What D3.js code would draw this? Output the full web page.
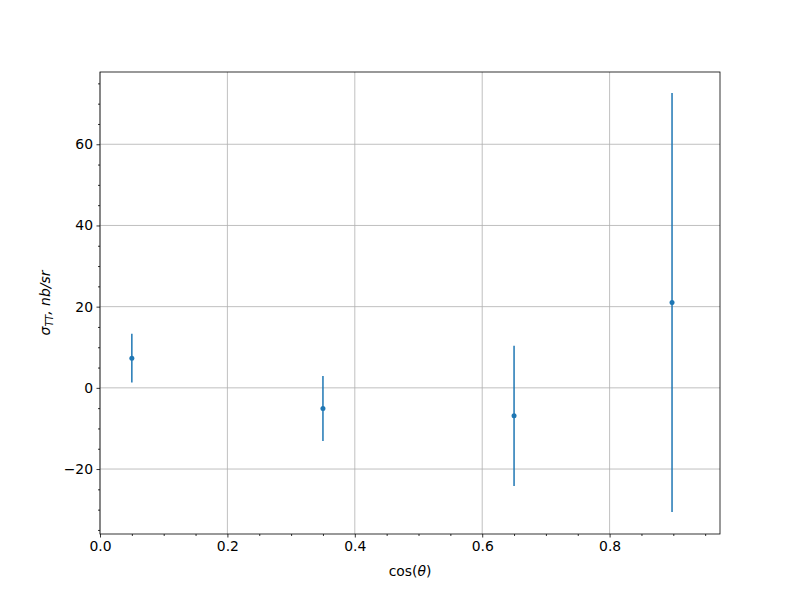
<!DOCTYPE html>
<html>
<head>
<meta charset="utf-8">
<script src="https://cdn.jsdelivr.net/npm/d3@7"></script>
<style>
  body { margin: 0; background: #fff; }
  text { font-family: "DejaVu Sans", sans-serif; }
</style>
</head>
<body>
<svg id="chart" width="800" height="600"></svg>
<script>
// Data
const cosTheta = [0.05, 0.35, 0.65, 0.898];
const sigmaTT = [7.3, -5.1, -6.9, 21.0];
const sigmaErr = [6.0, 8.0, 17.3, 51.6];
const xTicks = [0.0, 0.2, 0.4, 0.6, 0.8];
const yTicks = [-20, 0, 20, 40, 60];

const svg = d3.select("#chart");
const L = 100, R = 720, T = 72, B = 534;
const x = d3.scaleLinear().domain([0, 0.9733]).range([L, R]);
const y = d3.scaleLinear().domain([-36.0, 77.8]).range([B, T]);

svg.append("rect").attr("width", 800).attr("height", 600).attr("fill", "#fff");

// Grid
const grid = svg.append("g");
grid.selectAll("line.gx").data(xTicks).enter().append("line")
  .attr("x1", d => x(d)).attr("x2", d => x(d)).attr("y1", T).attr("y2", B)
  .attr("stroke", "#b0b0b0").attr("stroke-width", 0.8);
grid.selectAll("line.gy").data(yTicks).enter().append("line")
  .attr("y1", d => y(d)).attr("y2", d => y(d)).attr("x1", L).attr("x2", R)
  .attr("stroke", "#b0b0b0").attr("stroke-width", 0.8);

// Axes
const fmtX = d3.format(".1f");
const xMinor = d3.range(0, 0.9733, 0.05).filter(v => Math.abs(v * 5 - Math.round(v * 5)) > 1e-6);
const yMinor = d3.range(-35, 78, 5).filter(v => v % 20 !== 0);

const xAxis = svg.append("g").attr("transform", `translate(0,${B})`)
  .call(d3.axisBottom(x).tickValues(xTicks).tickFormat(fmtX).tickSize(3.5).tickPadding(3.5));
const xAxisMinor = svg.append("g").attr("transform", `translate(0,${B})`)
  .call(d3.axisBottom(x).tickValues(xMinor).tickFormat("").tickSize(2));
const yAxis = svg.append("g").attr("transform", `translate(${L},0)`)
  .call(d3.axisLeft(y).tickValues(yTicks).tickFormat(d => d < 0 ? "\u2212" + Math.abs(d) : d).tickSize(3.5).tickPadding(3.5));
const yAxisMinor = svg.append("g").attr("transform", `translate(${L},0)`)
  .call(d3.axisLeft(y).tickValues(yMinor).tickFormat("").tickSize(2));

[xAxis, xAxisMinor, yAxis, yAxisMinor].forEach(g => {
  g.select(".domain").remove();
  g.selectAll("line").attr("stroke", "#000").attr("stroke-width", 0.8);
  g.selectAll("text").attr("font-size", "13.9px").attr("fill", "#000")
    .attr("font-family", "DejaVu Sans, sans-serif");
});

// Frame
svg.append("rect").attr("x", L).attr("y", T).attr("width", R - L).attr("height", B - T)
  .attr("fill", "none").attr("stroke", "#000").attr("stroke-width", 0.8);

// Error bars
const pts = cosTheta.map((c, i) => ({ c, v: sigmaTT[i], e: sigmaErr[i] }));
const g = svg.append("g");
g.selectAll("line.err").data(pts).enter().append("line")
  .attr("x1", d => x(d.c)).attr("x2", d => x(d.c))
  .attr("y1", d => y(d.v - d.e)).attr("y2", d => y(d.v + d.e))
  .attr("stroke", "#1f77b4").attr("stroke-width", 1.5);
g.selectAll("circle").data(pts).enter().append("circle")
  .attr("cx", d => x(d.c)).attr("cy", d => y(d.v)).attr("r", 2.5)
  .attr("fill", "#1f77b4");

// Labels
const xl = svg.append("text").attr("x", (L + R) / 2).attr("y", 576)
  .attr("text-anchor", "middle").attr("font-size", "13.9px");
xl.append("tspan").text("cos(");
xl.append("tspan").attr("font-style", "italic").text("\u03b8");
xl.append("tspan").text(")");

const yl = svg.append("text").attr("transform", `translate(50,${(T + B) / 2}) rotate(-90)`)
  .attr("text-anchor", "middle").attr("font-size", "13.9px").attr("font-style", "italic");
yl.append("tspan").text("\u03c3");
yl.append("tspan").attr("font-size", "9.7px").attr("dy", "3").text("TT");
yl.append("tspan").attr("dy", "-3").text(", nb/sr");
</script>
</body>
</html>
